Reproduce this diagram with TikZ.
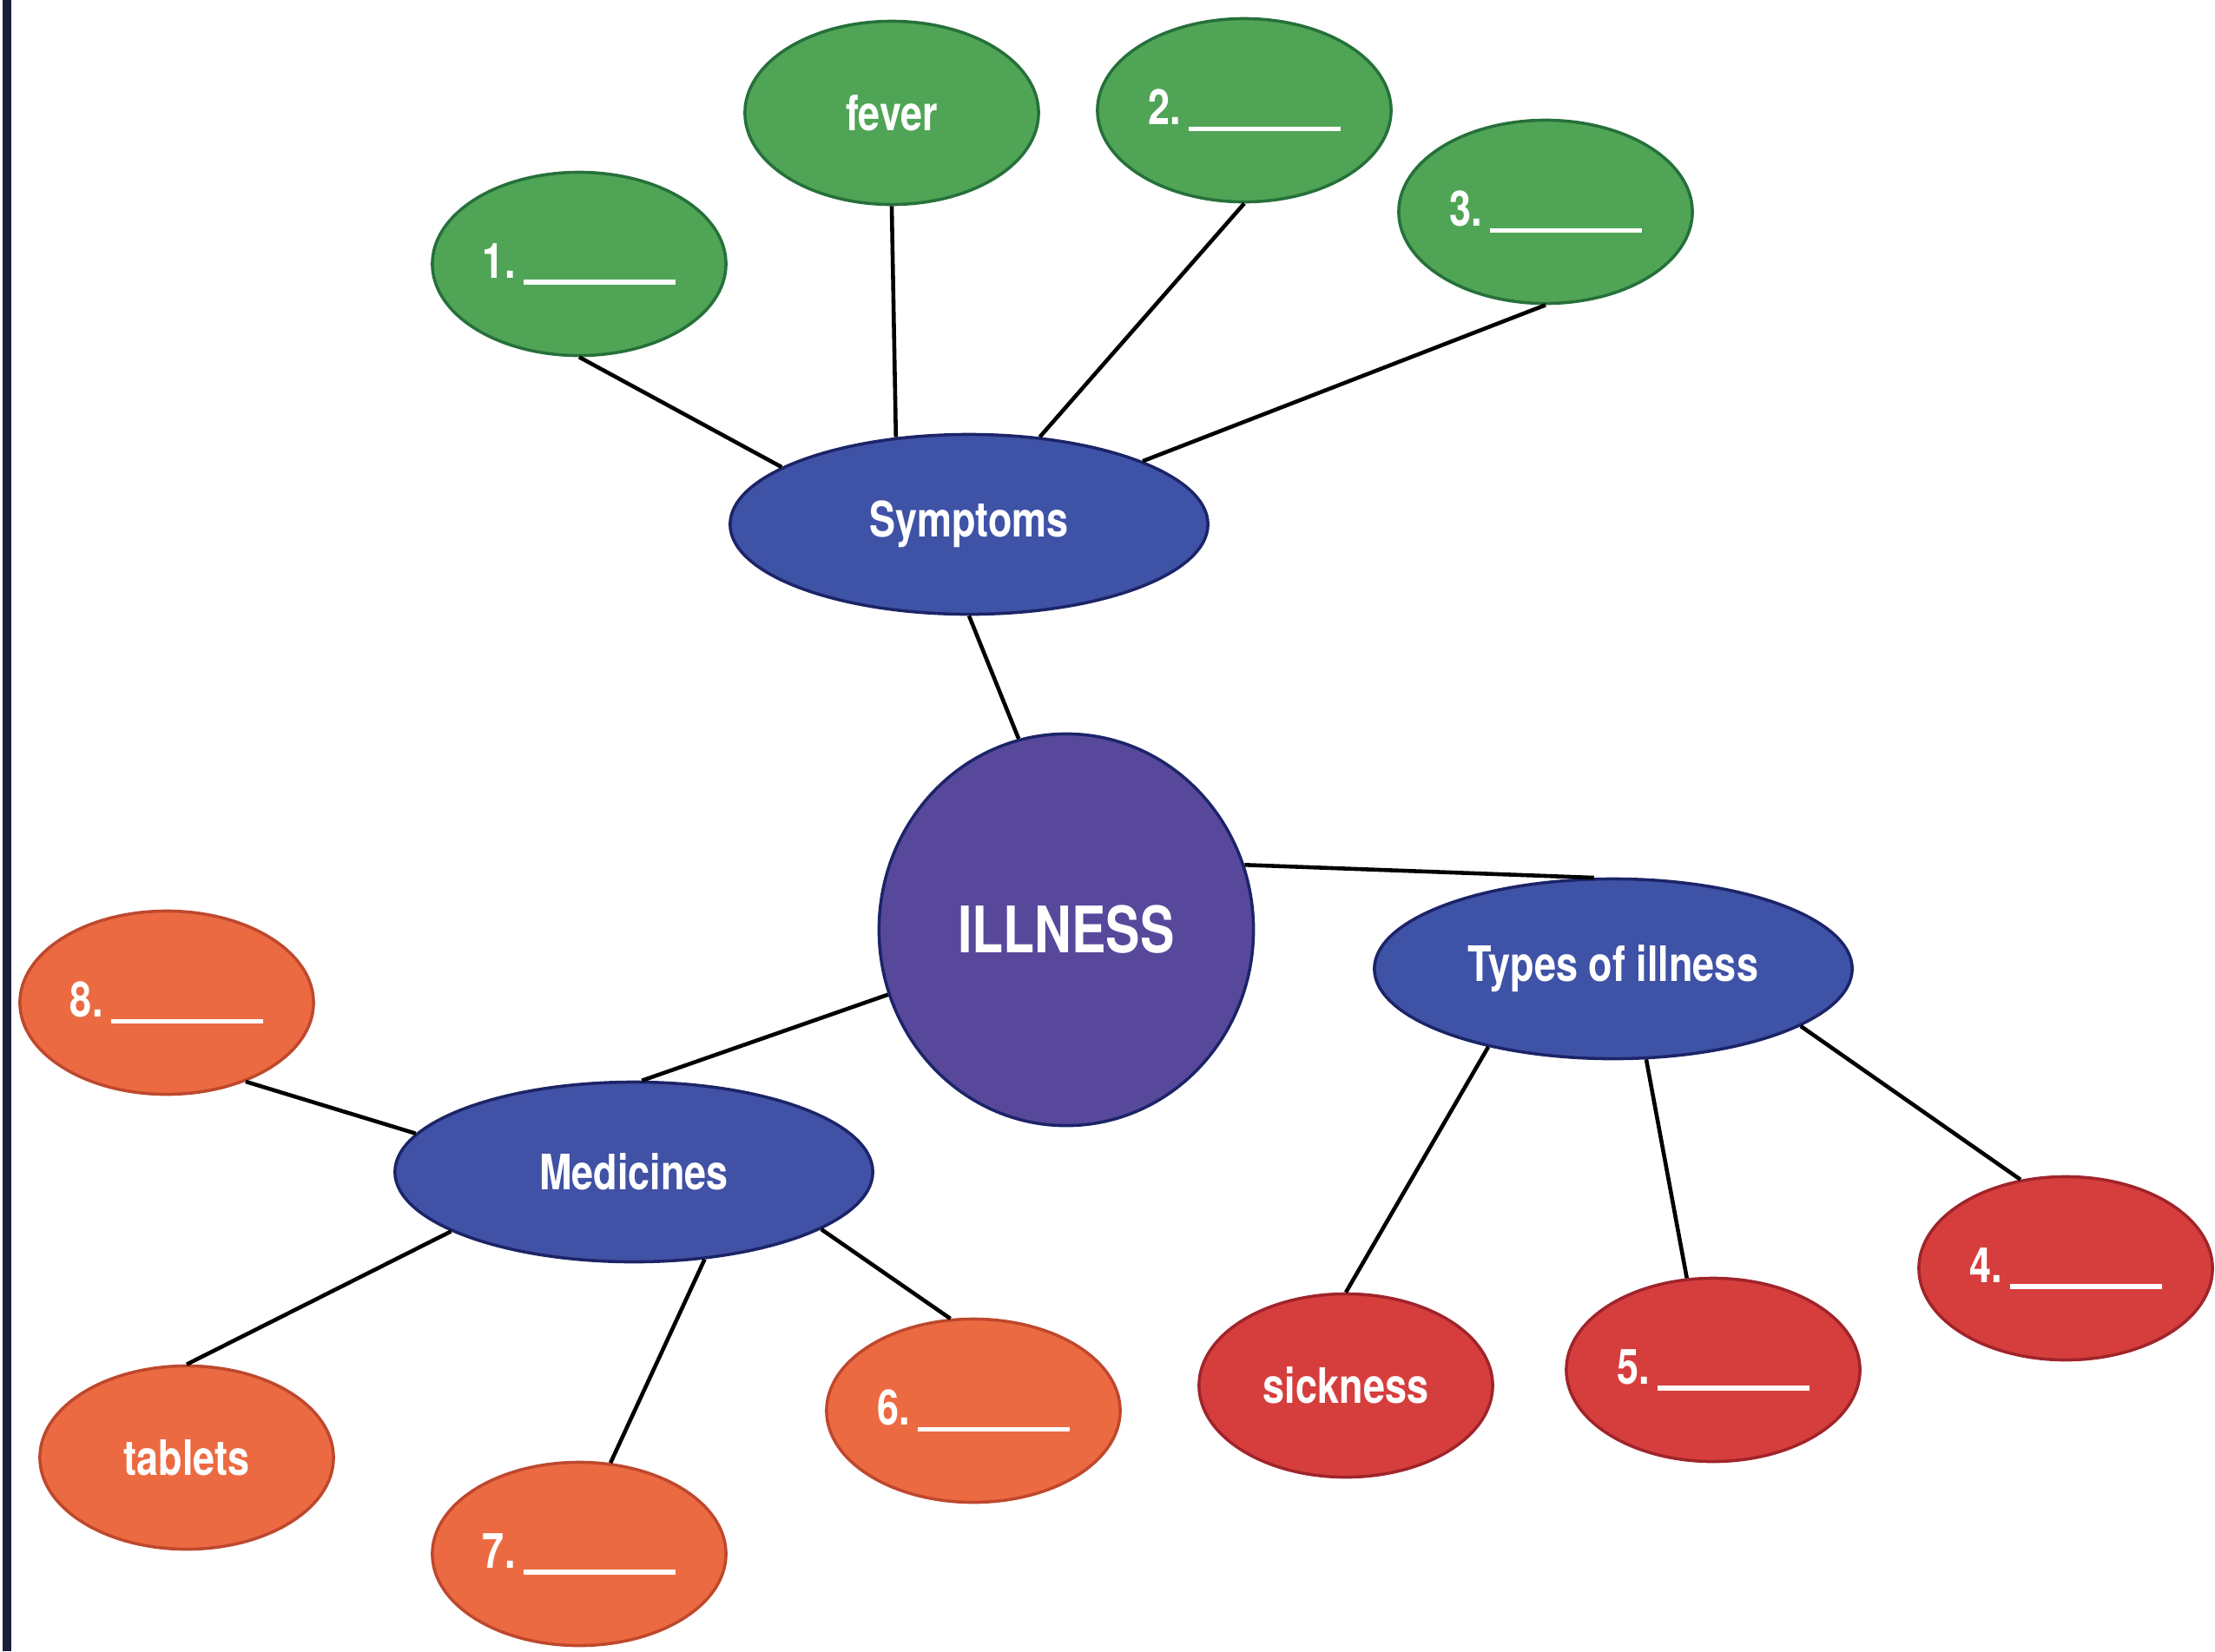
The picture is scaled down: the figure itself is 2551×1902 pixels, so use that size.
\documentclass[tikz,border=0pt]{standalone}
\usepackage{fontspec}
\newfontfamily\mapfont[FakeStretch=0.8]{TeX Gyre Heros}
\usetikzlibrary{shapes.geometric}
\definecolor{leafgreen}{RGB}{80,164,86}
\definecolor{leafgreenline}{RGB}{38,112,58}
\definecolor{midblue}{RGB}{62,82,166}
\definecolor{midblueline}{RGB}{28,36,104}
\definecolor{hubpurple}{RGB}{88,72,156}
\definecolor{leaforange}{RGB}{236,106,66}
\definecolor{leaforangeline}{RGB}{190,72,45}
\definecolor{leafred}{RGB}{214,62,62}
\definecolor{leafredline}{RGB}{160,36,42}
\definecolor{pageedge}{RGB}{25,30,60}
\newcommand{\blankline}[1]{#1.\,\rule[-0.25ex]{1.75cm}{1.6pt}}

\begin{document}
\begin{tikzpicture}[
        x=0.01cm, y=-0.01cm,
        every node/.style={ellipse, draw, line width=1pt, inner sep=0pt, text=white, font=\mapfont\bfseries\fontsize{16}{18}\selectfont},
        symptom/.style={fill=leafgreen, draw=leafgreenline, minimum width=3.38cm, minimum height=2.11cm},
        medicine/.style={fill=leaforange, draw=leaforangeline, minimum width=3.38cm, minimum height=2.11cm},
        kind/.style={fill=leafred, draw=leafredline, minimum width=3.38cm, minimum height=2.11cm},
        branch/.style={fill=midblue, draw=midblueline, minimum width=5.5cm, minimum height=2.07cm},
        link/.style={line width=1.3pt}
    ]
        \useasboundingbox (0,0) rectangle (2551,1902);
        \fill[pageedge] (3,0) rectangle (13,1902);

        % Centre node
        \node[fill=hubpurple, draw=midblueline, minimum width=4.31cm, minimum height=4.51cm, font=\mapfont\bfseries\fontsize{21}{24}\selectfont] (illness) at (1228,1071) {ILLNESS};

        % Branch nodes
        \node[branch] (symptoms) at (1116,604) {Symptoms};
        \node[branch] (types) at (1858,1116) {Types of illness};
        \node[branch, fill=midblue!90!hubpurple] (medicines) at (730,1350) {Medicines};

        % Symptoms
        \node[symptom] (s1) at (667,304) {\blankline{1}};
        \node[symptom] (fever) at (1027,130) {fever};
        \node[symptom] (s2) at (1433,127) {\blankline{2}};
        \node[symptom] (s3) at (1780,244) {\blankline{3}};

        % Types of illness
        \node[kind] (sickness) at (1550,1596) {sickness};
        \node[kind] (t5) at (1973,1578) {\blankline{5}};
        \node[kind] (t4) at (2379,1461) {\blankline{4}};

        % Medicines
        \node[medicine] (m8) at (192,1155) {\blankline{8}};
        \node[medicine] (tablets) at (215,1679) {tablets};
        \node[medicine] (m7) at (667,1790) {\blankline{7}};
        \node[medicine] (m6) at (1121,1625) {\blankline{6}};

        % Connect nodes
        \draw[link] (symptoms.south) -- (illness.104);
        \draw[link] (illness.20) -- (types.102);
        \draw[link] (illness.200) -- (medicines.85);
        \draw[link] (s1.south) -- (symptoms.163);
        \draw[link] (fever.south) -- (symptoms.130);
        \draw[link] (s2.south) -- (symptoms.51);
        \draw[link] (s3.south) -- (symptoms.20);
        \draw[link] (types.212) -- (sickness.north);
        \draw[link] (types.290) -- (t5.106);
        \draw[link] (types.343) -- (t4.117);
        \draw[link] (medicines.170) -- (m8.315);
        \draw[link] (medicines.198) -- (tablets.north);
        \draw[link] (medicines.309) -- (m7.71);
        \draw[link] (medicines.343) -- (m6.104);
    \end{tikzpicture}
\end{document}
